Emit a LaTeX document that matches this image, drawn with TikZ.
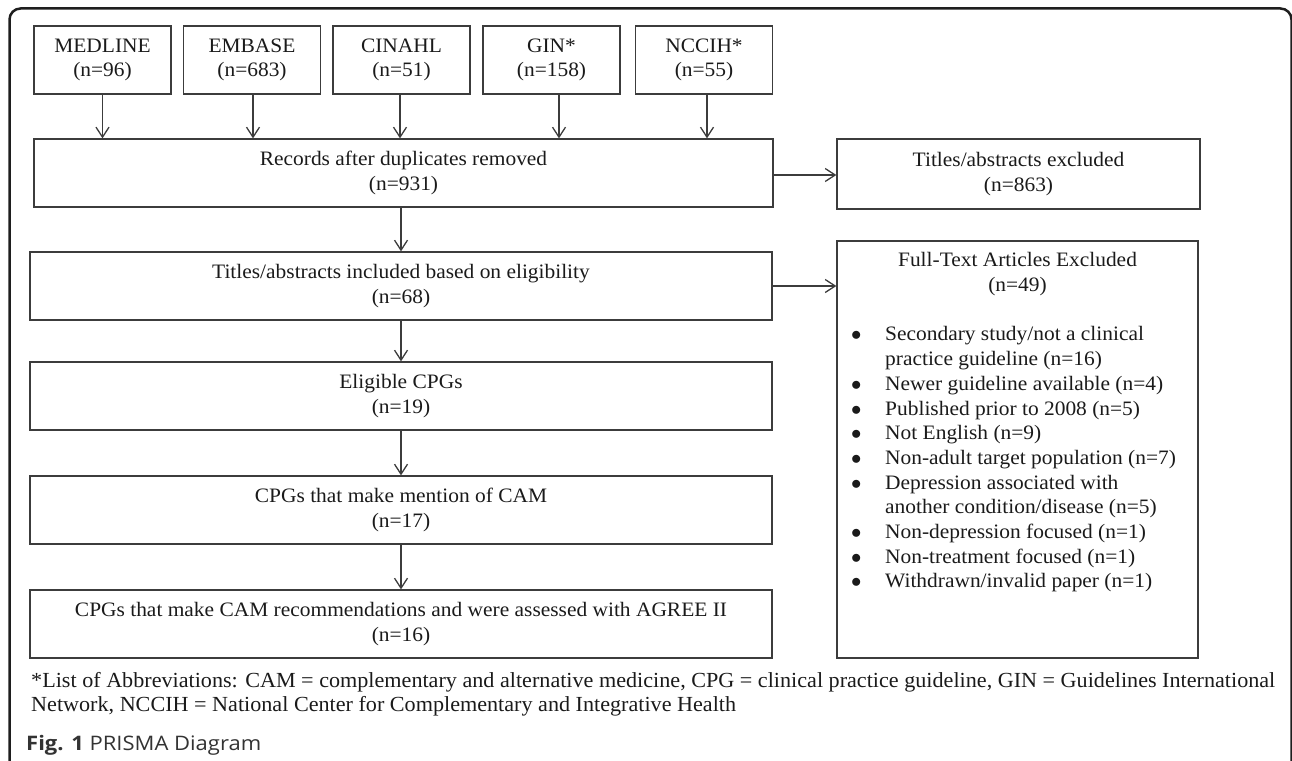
\documentclass[tikz,border=0pt]{standalone}
\usepackage{fontspec}
\setmainfont[FakeStretch=1.03]{Liberation Serif}
\newfontfamily\boxfont[FakeStretch=1.045]{Liberation Serif}
\newfontfamily\capfont[FakeStretch=1.1]{Open Sans}
\usetikzlibrary{arrows.meta}
\definecolor{framecol}{HTML}{1E1E1E}
\definecolor{boxgray}{HTML}{3C3C3C}
\definecolor{txtcol}{HTML}{1A1A1A}
\definecolor{capgray}{HTML}{333333}
\begin{document}
\begin{tikzpicture}[x=1pt,y=-1pt,
  box/.style={draw=boxgray, line width=1.3pt, align=center, text=txtcol,
    font=\boxfont\fontsize{20.5}{24.5}\selectfont, inner sep=0pt},
  src/.style={box, minimum width=137pt, minimum height=68pt},
  wide/.style={box, minimum width=742pt, minimum height=68pt},
  arr/.style={draw=boxgray, line width=1.3pt,
    -{Straight Barb[length=10pt,width=13pt,line width=1.3pt]}},
  plain/.style={inner sep=0pt, text=txtcol}
]
\useasboundingbox (0,0) rectangle (1292,760);
% outer frame
\draw[framecol, line width=2.5pt, rounded corners=11pt]
  (9.5,780) -- (9.5,8.5) -- (1291.5,8.5) -- (1291.5,780);

% sources
\node[src] (medline) at (102.5,60) {MEDLINE\\(n=96)};
\node[src] (embase)  at (252,60)   {EMBASE\\(n=683)};
\node[src] (cinahl)  at (401.5,60) {CINAHL\\(n=51)};
\node[src] (gin)     at (551.5,60) {GIN*\\(n=158)};
\node[src] (nccih)   at (704,60)   {NCCIH*\\(n=55)};

% main column
\node[box, minimum width=739pt, minimum height=68pt] (records) at (403.5,173)
  {Records after duplicates removed\\(n=931)};
\node[wide] (incl) at (401,286) {Titles/abstracts included based on eligibility\\(n=68)};
\node[wide] (elig) at (401,396) {Eligible CPGs\\(n=19)};
\node[wide] (cam)  at (401,510) {CPGs that make mention of CAM\\(n=17)};
\node[wide] (rec)  at (401,624) {CPGs that make CAM recommendations and were assessed with AGREE II\\(n=16)};

% right column
\node[box, minimum width=363pt, minimum height=70pt] (excl) at (1018.5,174)
  {Titles/abstracts excluded\\(n=863)};
\node[box, minimum width=361pt, minimum height=417pt] (ft) at (1017.5,449.5) {};
\node[plain, align=center, font=\boxfont\fontsize{20.5}{24.5}\selectfont] (fthead) at (1017.5,274)
  {Full-Text Articles Excluded\\(n=49)};
\node[plain, anchor=north west, font=\boxfont\fontsize{20.5}{24.7}\selectfont] (ftlist) at (851,323.5)
  {\renewcommand{\arraystretch}{1}%
   \begin{tabular}{@{}p{34pt}@{}l@{}}
   $\bullet$ & Secondary study/not a clinical\\
             & practice guideline (n=16)\\
   $\bullet$ & Newer guideline available (n=4)\\
   $\bullet$ & Published prior to 2008 (n=5)\\
   $\bullet$ & Not English (n=9)\\
   $\bullet$ & Non-adult target population (n=7)\\
   $\bullet$ & Depression associated with\\
             & another condition/disease (n=5)\\
   $\bullet$ & Non-depression focused (n=1)\\
   $\bullet$ & Non-treatment focused (n=1)\\
   $\bullet$ & Withdrawn/invalid paper (n=1)
   \end{tabular}};

% arrows
\draw[arr] (medline.south) -- (medline.south |- records.north);
\draw[arr] ([xshift=1pt]embase.south) -- ([xshift=1pt]embase.south |- records.north);
\draw[arr] ([xshift=-1.5pt]cinahl.south) -- ([xshift=-1.5pt]cinahl.south |- records.north);
\draw[arr] ([xshift=7.5pt]gin.south) -- ([xshift=7.5pt]gin.south |- records.north);
\draw[arr] ([xshift=3pt]nccih.south) -- ([xshift=3pt]nccih.south |- records.north);
\draw[arr] ([yshift=-2pt]records.east) -- ([yshift=-2pt]records.east -| excl.west);
\draw[arr] (incl.north |- records.south) -- (incl.north);
\draw[arr] (incl.east) -- (incl.east -| ft.west);
\draw[arr] (incl.south) -- (elig.north);
\draw[arr] (elig.south) -- (cam.north);
\draw[arr] (cam.south) -- (rec.north);

% footnote and caption
\node[plain, anchor=west, align=left, font=\fontsize{21.5}{24}\selectfont] (abbr) at (31,694)
  {*List of Abbreviations: CAM = complementary and alternative medicine, CPG = clinical practice guideline, GIN = Guidelines International\\
   Network, NCCIH = National Center for Complementary and Integrative Health};
\node[plain, anchor=west, text=capgray, font=\capfont\fontsize{20}{22}\selectfont] (fig) at (26,745)
  {\textbf{Fig. 1} PRISMA Diagram};
\end{tikzpicture}
\end{document}
